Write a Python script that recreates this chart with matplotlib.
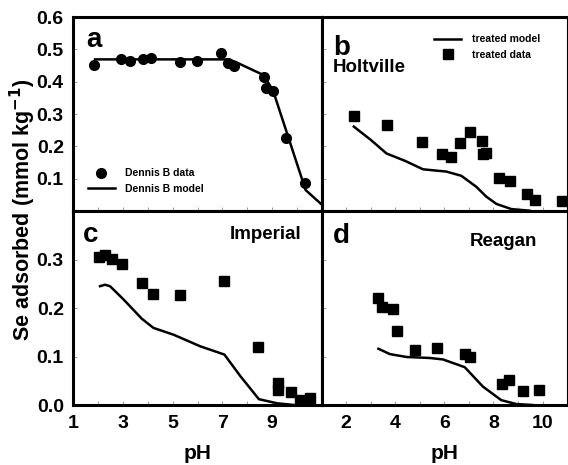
import numpy as np
import matplotlib
matplotlib.use('Agg')
import matplotlib.pyplot as plt

plt.rcParams['font.family'] = ['Liberation Sans', 'DejaVu Sans']
plt.rcParams['font.weight'] = 'bold'

# panel a - Dennis B
a_ph = [1.83, 2.91, 3.26, 3.79, 4.13, 5.28, 5.98, 6.96, 7.23, 7.46, 8.67, 8.74, 9.03, 9.57, 10.31]
a_se = [0.452, 0.469, 0.464, 0.469, 0.474, 0.460, 0.464, 0.490, 0.459, 0.449, 0.415, 0.380, 0.371, 0.227, 0.086]
a_model_ph = [1.87, 7.2, 7.5, 8.67, 9.05, 10.35, 11.0]
a_model_se = [0.469, 0.469, 0.462, 0.420, 0.370, 0.065, 0.020]

# panel b - Holtville
b_ph = [2.31, 3.65, 5.08, 5.92, 6.28, 6.65, 7.03, 7.55, 7.58, 7.68, 8.22, 8.66, 9.35, 9.70, 10.79]
b_se = [0.294, 0.266, 0.214, 0.175, 0.168, 0.209, 0.245, 0.217, 0.176, 0.180, 0.103, 0.093, 0.053, 0.035, 0.030]
b_model_ph = [2.31, 3.0, 3.64, 4.4, 5.13, 6.08, 6.69, 7.3, 7.7, 8.12, 8.73, 9.47]
b_model_se = [0.261, 0.220, 0.178, 0.155, 0.129, 0.122, 0.109, 0.075, 0.045, 0.022, 0.006, 0.001]

# panel c - Imperial
c_ph = [2.04, 2.27, 2.54, 2.95, 3.75, 4.20, 5.30, 7.08, 8.44, 9.25, 9.25, 9.75, 10.12, 10.51]
c_se = [0.305, 0.310, 0.301, 0.290, 0.252, 0.229, 0.227, 0.256, 0.119, 0.045, 0.030, 0.026, 0.010, 0.015]
c_model_ph = [2.07, 2.27, 2.47, 3.01, 3.75, 4.22, 5.03, 6.11, 7.08, 7.73, 8.47, 9.21, 9.9]
c_model_se = [0.245, 0.248, 0.245, 0.218, 0.178, 0.159, 0.145, 0.121, 0.104, 0.059, 0.012, 0.0035, 0.0]

# panel d - Reagan
d_ph = [3.30, 3.44, 3.89, 4.05, 4.82, 5.68, 6.83, 7.04, 8.33, 8.65, 9.22, 9.87]
d_se = [0.220, 0.202, 0.199, 0.152, 0.114, 0.117, 0.105, 0.100, 0.044, 0.052, 0.029, 0.031]
d_model_ph = [3.31, 3.78, 4.46, 5.4, 5.94, 6.83, 7.57, 8.32, 8.93, 9.6]
d_model_se = [0.116, 0.105, 0.099, 0.097, 0.094, 0.078, 0.038, 0.010, 0.002, 0.0]

fig = plt.figure(figsize=(5.68, 4.65), dpi=100)
L = [0.1294, 0.5664]
W = [0.437, 0.4319]
B = [0.5462, 0.129]
H = 0.4172

ax_a = fig.add_axes([L[0], B[0], W[0], H])
ax_b = fig.add_axes([L[1], B[0], W[1], H])
ax_c = fig.add_axes([L[0], B[1], W[0], H])
ax_d = fig.add_axes([L[1], B[1], W[1], H])

for ax in [ax_a, ax_b, ax_c, ax_d]:
    ax.set_xlim(1, 11)
    ax.set_xticks(range(1, 12))
    for s in ax.spines.values():
        s.set_linewidth(2.2)
    ax.tick_params(direction='in', length=3, width=0.6, color='#888888',
                   labelsize=14, pad=7)
ax_b.spines['right'].set_linewidth(0.8)
ax_d.spines['right'].set_linewidth(0.8)

for ax in [ax_a, ax_b]:
    ax.set_ylim(0, 0.6)
    ax.set_yticks([0.1, 0.2, 0.3, 0.4, 0.5, 0.6])
    ax.set_xticklabels([])
for ax in [ax_c, ax_d]:
    ax.set_ylim(0, 0.4)
    ax.set_yticks([0.0, 0.1, 0.2, 0.3])
ax_a.set_yticklabels(['0.1', '0.2', '0.3', '0.4', '0.5', '0.6'])
ax_c.set_yticklabels(['0.0', '0.1', '0.2', '0.3'])
ax_b.set_yticklabels([])
ax_d.set_yticklabels([])
ax_c.set_xticklabels(['1', '', '3', '', '5', '', '7', '', '9', '', ''])
ax_d.set_xticklabels(['', '2', '', '4', '', '6', '', '8', '', '10', ''])

ms = 7
ax_a.plot(a_ph, a_se, 'o', color='k', ms=ms, label='Dennis B data')
ax_a.plot(a_model_ph, a_model_se, '-', color='k', lw=1.8, label='Dennis B model')

ax_b.plot(b_model_ph, b_model_se, '-', color='k', lw=1.8, label='treated model')
ax_b.plot(b_ph, b_se, 's', color='k', ms=ms, label='treated data')

ax_c.plot(c_model_ph, c_model_se, '-', color='k', lw=1.8)
ax_c.plot(c_ph, c_se, 's', color='k', ms=ms)
ax_d.plot(d_model_ph, d_model_se, '-', color='k', lw=1.8)
ax_d.plot(d_ph, d_se, 's', color='k', ms=ms)

leg_kw = dict(frameon=False, handlelength=2.6, handletextpad=1.0,
              borderpad=0, borderaxespad=0, labelspacing=0.5,
              prop={'weight': 'bold', 'size': 7.5})
ax_a.legend(loc='center left', bbox_to_anchor=(0.058, 0.155), **leg_kw)
ax_b.legend(loc='center left', bbox_to_anchor=(0.458, 0.845), **leg_kw)

ax_a.text(0.05, 0.847, 'a', transform=ax_a.transAxes, fontsize=20, fontweight='bold', va='baseline')
ax_b.text(0.046, 0.804, 'b', transform=ax_b.transAxes, fontsize=20, fontweight='bold', va='baseline')
ax_b.text(0.046, 0.718, 'Holtville', transform=ax_b.transAxes, fontsize=13.5, fontweight='bold', va='baseline')
ax_c.text(0.038, 0.842, 'c', transform=ax_c.transAxes, fontsize=20, fontweight='bold', va='baseline')
ax_c.text(0.63, 0.854, 'Imperial', transform=ax_c.transAxes, fontsize=13.5, fontweight='bold', va='baseline')
ax_d.text(0.047, 0.837, 'd', transform=ax_d.transAxes, fontsize=20, fontweight='bold', va='baseline')
ax_d.text(0.605, 0.821, 'Reagan', transform=ax_d.transAxes, fontsize=13.5, fontweight='bold', va='baseline')

ax_c.set_xlabel('pH', fontsize=15, fontweight='bold', labelpad=9)
ax_d.set_xlabel('pH', fontsize=15, fontweight='bold', labelpad=9)
fig.text(0.040, 0.548, 'Se adsorbed (mmol kg$^{\\mathbf{-1}}$)', rotation=90,
         ha='center', va='center', fontsize=15.5, fontweight='bold')

fig.savefig('out.png', dpi=100)
